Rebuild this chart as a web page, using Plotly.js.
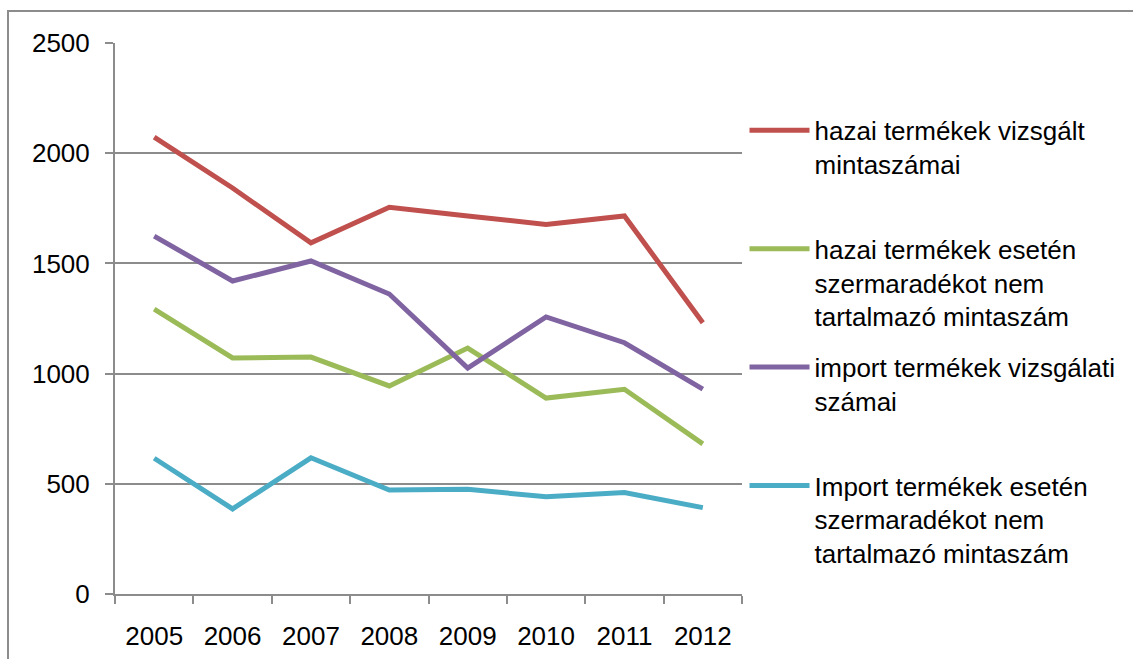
<!DOCTYPE html>
<html>
<head>
<meta charset="utf-8">
<script src="https://cdn.plot.ly/plotly-3.0.1.min.js"></script>
<style>
  body { margin: 0; background: #fff; }
  #keret { position: absolute; left: 7px; top: 10px; border-left: 2px solid #8c8c8c; border-top: 2px solid #8c8c8c; }
</style>
</head>
<body>
<div id="keret"><div id="grafika"></div></div>
<script>
let evek = ['2005', '2006', '2007', '2008', '2009', '2010', '2011', '2012'];
let hazaiVizsgalt = [2073, 1842, 1593, 1755, 1715, 1677, 1715, 1231];
let hazaiNemTartalmazo = [1293, 1071, 1075, 944, 1116, 889, 929, 681];
let importVizsgalt = [1624, 1420, 1511, 1361, 1025, 1257, 1140, 930];
let importNemTartalmazo = [616, 386, 618, 472, 475, 441, 460, 392];

let nevek = [
    'hazai termékek vizsgált<br>mintaszámai<br> ',
    'hazai termékek esetén<br>szermaradékot nem<br>tartalmazó mintaszám',
    'import termékek vizsgálati<br>számai<br> ',
    'Import termékek esetén<br>szermaradékot nem<br>tartalmazó mintaszám'
];
let szinek = ['#C0504D', '#9BBB59', '#8064A2', '#4BACC6'];
let sorok = [hazaiVizsgalt, hazaiNemTartalmazo, importVizsgalt, importNemTartalmazo];

const szurke = '#8c8c8c';
const betu = { family: 'Liberation Sans, Arial, sans-serif', size: 26, color: '#000' };

const traces = sorok.map((ertekek, i) => ({
    x: evek,
    y: ertekek,
    name: nevek[i],
    legendgroup: 'g' + i,
    type: 'scatter',
    mode: 'lines',
    line: { color: szinek[i], width: 5 }
}));

const layout = {
    width: 1124,
    height: 647,
    margin: { l: 106, r: 388, t: 31, b: 65 },
    paper_bgcolor: 'white',
    plot_bgcolor: 'white',
    font: betu,
    showlegend: true,
    legend: {
        x: 1.004, xanchor: 'left',
        y: 0.884, yanchor: 'top',
        font: betu,
        valign: 'top',
        itemwidth: 60,
        tracegroupgap: 14,
        bgcolor: 'rgba(0,0,0,0)'
    },
    xaxis: {
        type: 'category',
        range: [-0.5, 7.5],
        tickson: 'boundaries',
        ticks: 'outside',
        ticklen: 8,
        tickwidth: 2,
        tickcolor: szurke,
        ticklabelstandoff: 18,
        showgrid: false,
        showline: true,
        linecolor: szurke,
        linewidth: 2,
        tickfont: betu,
        fixedrange: true
    },
    yaxis: {
        range: [0, 2500],
        dtick: 500,
        ticks: 'outside',
        ticklen: 8,
        tickwidth: 2,
        tickcolor: szurke,
        ticklabelstandoff: 10,
        showgrid: true,
        gridcolor: szurke,
        gridwidth: 2,
        showline: true,
        linecolor: szurke,
        linewidth: 2,
        zeroline: false,
        tickfont: betu,
        fixedrange: true
    }
};

Plotly.newPlot('grafika', traces, layout, { displayModeBar: false, staticPlot: true });
</script>
</body>
</html>
